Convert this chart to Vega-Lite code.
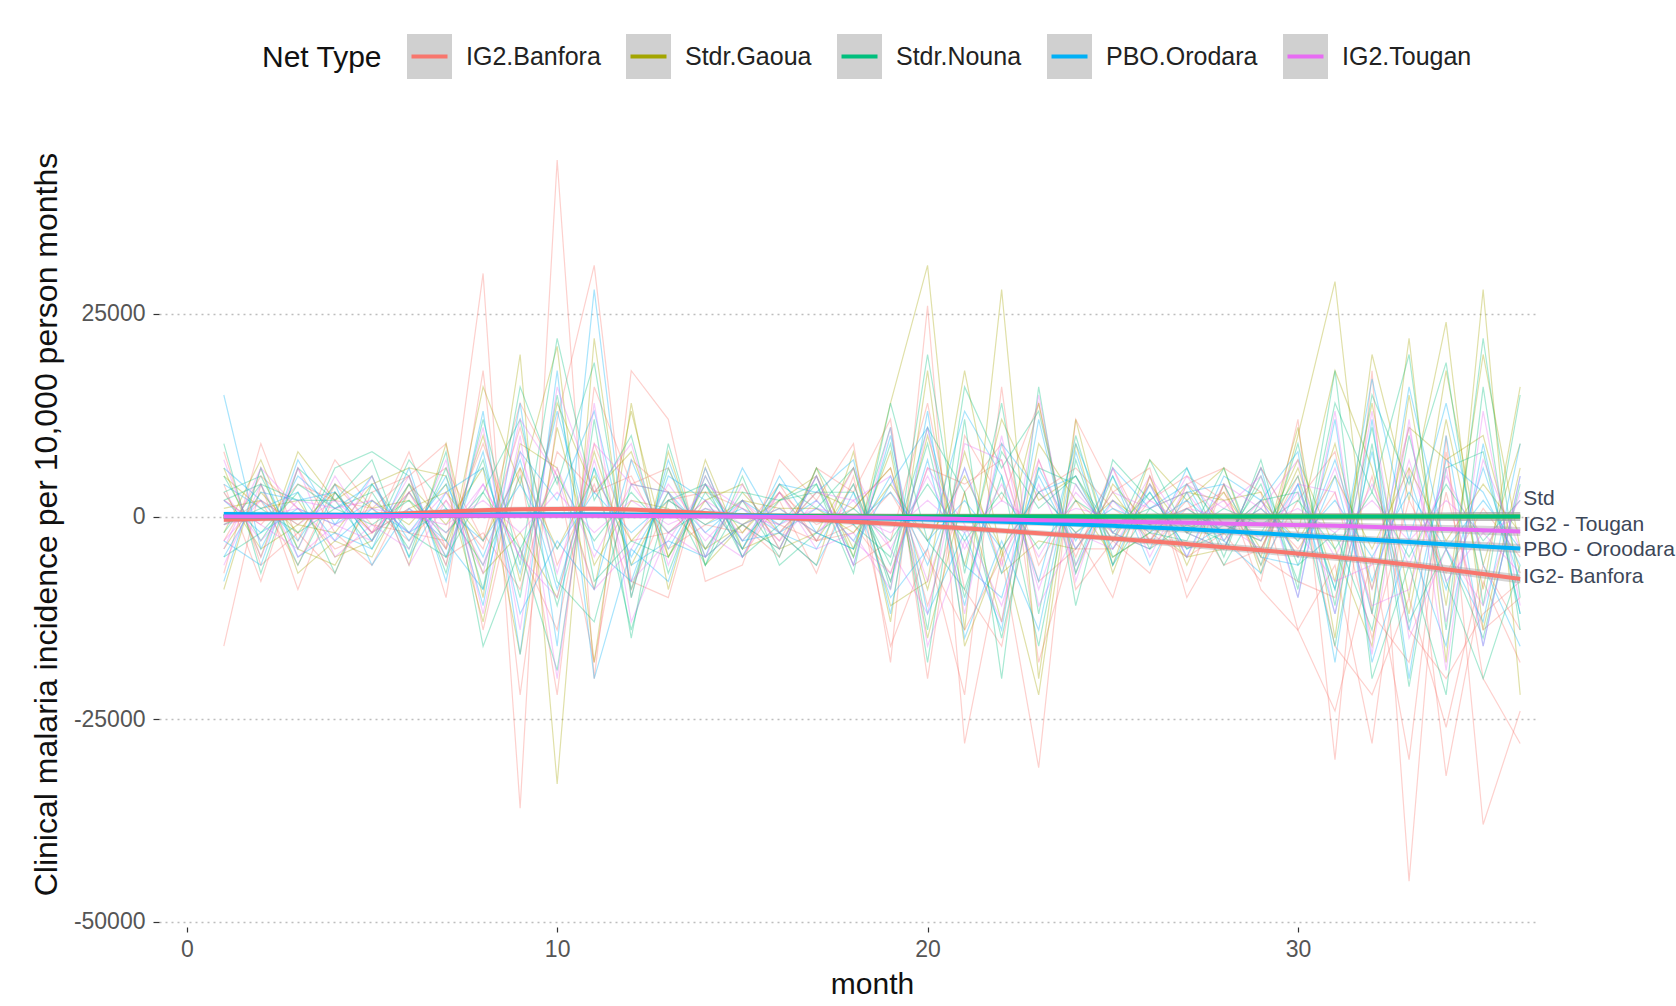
{
"$schema": "https://vega.github.io/schema/vega-lite/v6.json",
"width": 1376,
"height": 829,
"autosize": "none",
"padding": {"left": 159, "top": 98, "right": 141, "bottom": 79},
"background": "white",
"config": {"view": {"stroke": null}, "font": "Liberation Sans"},
"datasets": {
"series": [
{"s":"B1","n":"IG2.Banfora"},{"s":"B2","n":"IG2.Banfora"},{"s":"B3","n":"IG2.Banfora"},{"s":"B4","n":"IG2.Banfora"},{"s":"B5","n":"IG2.Banfora"},{"s":"B6","n":"IG2.Banfora"},{"s":"B7","n":"IG2.Banfora"},
{"s":"G1","n":"Stdr.Gaoua"},{"s":"G2","n":"Stdr.Gaoua"},{"s":"G3","n":"Stdr.Gaoua"},{"s":"G4","n":"Stdr.Gaoua"},{"s":"G5","n":"Stdr.Gaoua"},{"s":"G6","n":"Stdr.Gaoua"},{"s":"G7","n":"Stdr.Gaoua"},
{"s":"N1","n":"Stdr.Nouna"},{"s":"N2","n":"Stdr.Nouna"},{"s":"N3","n":"Stdr.Nouna"},{"s":"N4","n":"Stdr.Nouna"},{"s":"N5","n":"Stdr.Nouna"},{"s":"N6","n":"Stdr.Nouna"},{"s":"N7","n":"Stdr.Nouna"},
{"s":"P1","n":"PBO.Orodara"},{"s":"P2","n":"PBO.Orodara"},{"s":"P3","n":"PBO.Orodara"},{"s":"P4","n":"PBO.Orodara"},{"s":"P5","n":"PBO.Orodara"},{"s":"P6","n":"PBO.Orodara"},{"s":"P7","n":"PBO.Orodara"},
{"s":"T1","n":"IG2.Tougan"},{"s":"T2","n":"IG2.Tougan"},{"s":"T3","n":"IG2.Tougan"},{"s":"T4","n":"IG2.Tougan"},{"s":"T5","n":"IG2.Tougan"},{"s":"T6","n":"IG2.Tougan"},{"s":"T7","n":"IG2.Tougan"}
],
"sims": [
{"s":"B1","m":1,"v":-16000},{"s":"B1","m":2,"v":4000},{"s":"B1","m":3,"v":-9000},{"s":"B1","m":4,"v":3000},{"s":"B1","m":5,"v":-2000},{"s":"B1","m":6,"v":8000},{"s":"B1","m":7,"v":-4000},{"s":"B1","m":8,"v":30000},{"s":"B1","m":9,"v":-36000},{"s":"B1","m":10,"v":44000},{"s":"B1","m":11,"v":-20000},{"s":"B1","m":12,"v":18000},{"s":"B1","m":13,"v":12000},{"s":"B1","m":14,"v":-8000},{"s":"B1","m":15,"v":-6000},{"s":"B1","m":16,"v":7000},{"s":"B1","m":17,"v":2000},{"s":"B1","m":18,"v":9000},{"s":"B1","m":19,"v":-18000},{"s":"B1","m":20,"v":26000},{"s":"B1","m":21,"v":-28000},{"s":"B1","m":22,"v":-5000},{"s":"B1","m":23,"v":-31000},{"s":"B1","m":24,"v":12000},{"s":"B1","m":25,"v":3000},{"s":"B1","m":26,"v":6000},{"s":"B1","m":27,"v":-10000},{"s":"B1","m":28,"v":-2000},{"s":"B1","m":29,"v":-8000},{"s":"B1","m":30,"v":12000},{"s":"B1","m":31,"v":-30000},{"s":"B1","m":32,"v":18000},{"s":"B1","m":33,"v":-45000},{"s":"B1","m":34,"v":10000},{"s":"B1","m":35,"v":-38000},{"s":"B1","m":36,"v":-24000},
{"s":"B2","m":1,"v":8000},{"s":"B2","m":2,"v":-6000},{"s":"B2","m":3,"v":-2000},{"s":"B2","m":4,"v":-7000},{"s":"B2","m":5,"v":3000},{"s":"B2","m":6,"v":5000},{"s":"B2","m":7,"v":9000},{"s":"B2","m":8,"v":-14000},{"s":"B2","m":9,"v":6000},{"s":"B2","m":10,"v":-22000},{"s":"B2","m":11,"v":16000},{"s":"B2","m":12,"v":4000},{"s":"B2","m":13,"v":6000},{"s":"B2","m":14,"v":-5000},{"s":"B2","m":15,"v":-1000},{"s":"B2","m":16,"v":-5000},{"s":"B2","m":17,"v":6000},{"s":"B2","m":18,"v":3000},{"s":"B2","m":19,"v":12000},{"s":"B2","m":20,"v":-20000},{"s":"B2","m":21,"v":10000},{"s":"B2","m":22,"v":2000},{"s":"B2","m":23,"v":14000},{"s":"B2","m":24,"v":-9000},{"s":"B2","m":25,"v":-3000},{"s":"B2","m":26,"v":-7000},{"s":"B2","m":27,"v":4000},{"s":"B2","m":28,"v":6000},{"s":"B2","m":29,"v":3000},{"s":"B2","m":30,"v":-14000},{"s":"B2","m":31,"v":-6000},{"s":"B2","m":32,"v":-28000},{"s":"B2","m":33,"v":6000},{"s":"B2","m":34,"v":-32000},{"s":"B2","m":35,"v":-8000},{"s":"B2","m":36,"v":-18000},
{"s":"B3","m":1,"v":-3000},{"s":"B3","m":2,"v":5000},{"s":"B3","m":3,"v":1000},{"s":"B3","m":4,"v":-4000},{"s":"B3","m":5,"v":-2000},{"s":"B3","m":6,"v":3000},{"s":"B3","m":7,"v":-5000},{"s":"B3","m":8,"v":-2000},{"s":"B3","m":9,"v":-9000},{"s":"B3","m":10,"v":8000},{"s":"B3","m":11,"v":3000},{"s":"B3","m":12,"v":5000},{"s":"B3","m":13,"v":-4000},{"s":"B3","m":14,"v":-1000},{"s":"B3","m":15,"v":-2000},{"s":"B3","m":16,"v":4000},{"s":"B3","m":17,"v":-3000},{"s":"B3","m":18,"v":-1000},{"s":"B3","m":19,"v":-7000},{"s":"B3","m":20,"v":6000},{"s":"B3","m":21,"v":4000},{"s":"B3","m":22,"v":7000},{"s":"B3","m":23,"v":-8000},{"s":"B3","m":24,"v":-4000},{"s":"B3","m":25,"v":-4000},{"s":"B3","m":26,"v":2000},{"s":"B3","m":27,"v":5000},{"s":"B3","m":28,"v":2000},{"s":"B3","m":29,"v":-5000},{"s":"B3","m":30,"v":-8000},{"s":"B3","m":31,"v":-10000},{"s":"B3","m":32,"v":5000},{"s":"B3","m":33,"v":-14000},{"s":"B3","m":34,"v":-20000},{"s":"B3","m":35,"v":-12000},{"s":"B3","m":36,"v":-8000},
{"s":"B4","m":1,"v":2000},{"s":"B4","m":2,"v":-1000},{"s":"B4","m":3,"v":4000},{"s":"B4","m":4,"v":2000},{"s":"B4","m":5,"v":1000},{"s":"B4","m":6,"v":-3000},{"s":"B4","m":7,"v":2000},{"s":"B4","m":8,"v":-4000},{"s":"B4","m":9,"v":11000},{"s":"B4","m":10,"v":-6000},{"s":"B4","m":11,"v":4000},{"s":"B4","m":12,"v":-9000},{"s":"B4","m":13,"v":2000},{"s":"B4","m":14,"v":3000},{"s":"B4","m":15,"v":1000},{"s":"B4","m":16,"v":-1000},{"s":"B4","m":17,"v":-3000},{"s":"B4","m":18,"v":-2000},{"s":"B4","m":19,"v":3000},{"s":"B4","m":20,"v":-5000},{"s":"B4","m":21,"v":-14000},{"s":"B4","m":22,"v":-5000},{"s":"B4","m":23,"v":3000},{"s":"B4","m":24,"v":6000},{"s":"B4","m":25,"v":1000},{"s":"B4","m":26,"v":-2000},{"s":"B4","m":27,"v":-5000},{"s":"B4","m":28,"v":-2000},{"s":"B4","m":29,"v":1000},{"s":"B4","m":30,"v":-4000},{"s":"B4","m":31,"v":3000},{"s":"B4","m":32,"v":-15000},{"s":"B4","m":33,"v":2000},{"s":"B4","m":34,"v":-7000},{"s":"B4","m":35,"v":1000},{"s":"B4","m":36,"v":-5000},
{"s":"B5","m":1,"v":-7000},{"s":"B5","m":2,"v":9000},{"s":"B5","m":3,"v":-3000},{"s":"B5","m":4,"v":7000},{"s":"B5","m":5,"v":1000},{"s":"B5","m":6,"v":5000},{"s":"B5","m":7,"v":-10000},{"s":"B5","m":8,"v":18000},{"s":"B5","m":9,"v":-22000},{"s":"B5","m":10,"v":12000},{"s":"B5","m":11,"v":31000},{"s":"B5","m":12,"v":-8000},{"s":"B5","m":13,"v":-10000},{"s":"B5","m":14,"v":6000},{"s":"B5","m":15,"v":-5000},{"s":"B5","m":16,"v":2000},{"s":"B5","m":17,"v":-7000},{"s":"B5","m":18,"v":5000},{"s":"B5","m":19,"v":-16000},{"s":"B5","m":20,"v":-4000},{"s":"B5","m":21,"v":-22000},{"s":"B5","m":22,"v":16000},{"s":"B5","m":23,"v":-18000},{"s":"B5","m":24,"v":-2000},{"s":"B5","m":25,"v":-10000},{"s":"B5","m":26,"v":5000},{"s":"B5","m":27,"v":-8000},{"s":"B5","m":28,"v":4000},{"s":"B5","m":29,"v":-9000},{"s":"B5","m":30,"v":-14000},{"s":"B5","m":31,"v":-24000},{"s":"B5","m":32,"v":-5000},{"s":"B5","m":33,"v":-30000},{"s":"B5","m":34,"v":8000},{"s":"B5","m":35,"v":-20000},{"s":"B5","m":36,"v":-28000},
{"s":"B6","m":1,"v":4000},{"s":"B6","m":2,"v":-8000},{"s":"B6","m":3,"v":6000},{"s":"B6","m":4,"v":-2000},{"s":"B6","m":5,"v":-6000},{"s":"B6","m":6,"v":3000},{"s":"B6","m":7,"v":6000},{"s":"B6","m":8,"v":-3000},{"s":"B6","m":9,"v":14000},{"s":"B6","m":10,"v":5000},{"s":"B6","m":11,"v":-18000},{"s":"B6","m":12,"v":7000},{"s":"B6","m":13,"v":3000},{"s":"B6","m":14,"v":-4000},{"s":"B6","m":15,"v":2000},{"s":"B6","m":16,"v":-3000},{"s":"B6","m":17,"v":5000},{"s":"B6","m":18,"v":-6000},{"s":"B6","m":19,"v":-3000},{"s":"B6","m":20,"v":14000},{"s":"B6","m":21,"v":-9000},{"s":"B6","m":22,"v":-16000},{"s":"B6","m":23,"v":7000},{"s":"B6","m":24,"v":-5000},{"s":"B6","m":25,"v":6000},{"s":"B6","m":26,"v":-3000},{"s":"B6","m":27,"v":2000},{"s":"B6","m":28,"v":-6000},{"s":"B6","m":29,"v":-4000},{"s":"B6","m":30,"v":5000},{"s":"B6","m":31,"v":-16000},{"s":"B6","m":32,"v":-22000},{"s":"B6","m":33,"v":-10000},{"s":"B6","m":34,"v":-26000},{"s":"B6","m":35,"v":-6000},{"s":"B6","m":36,"v":-14000},
{"s":"B7","m":1,"v":-1000},{"s":"B7","m":2,"v":2000},{"s":"B7","m":3,"v":-6000},{"s":"B7","m":4,"v":4000},{"s":"B7","m":5,"v":-1000},{"s":"B7","m":6,"v":-2000},{"s":"B7","m":7,"v":-3000},{"s":"B7","m":8,"v":9000},{"s":"B7","m":9,"v":-4000},{"s":"B7","m":10,"v":-14000},{"s":"B7","m":11,"v":9000},{"s":"B7","m":12,"v":-3000},{"s":"B7","m":13,"v":-2000},{"s":"B7","m":14,"v":2000},{"s":"B7","m":15,"v":-4000},{"s":"B7","m":16,"v":3000},{"s":"B7","m":17,"v":-1000},{"s":"B7","m":18,"v":1000},{"s":"B7","m":19,"v":6000},{"s":"B7","m":20,"v":-11000},{"s":"B7","m":21,"v":3000},{"s":"B7","m":22,"v":9000},{"s":"B7","m":23,"v":-6000},{"s":"B7","m":24,"v":2000},{"s":"B7","m":25,"v":-2000},{"s":"B7","m":26,"v":-4000},{"s":"B7","m":27,"v":1000},{"s":"B7","m":28,"v":3000},{"s":"B7","m":29,"v":-6000},{"s":"B7","m":30,"v":2000},{"s":"B7","m":31,"v":8000},{"s":"B7","m":32,"v":-12000},{"s":"B7","m":33,"v":-18000},{"s":"B7","m":34,"v":3000},{"s":"B7","m":35,"v":-14000},{"s":"B7","m":36,"v":-10000},
{"s":"G1","m":1,"v":6000},{"s":"G1","m":2,"v":-5000},{"s":"G1","m":3,"v":8000},{"s":"G1","m":4,"v":2000},{"s":"G1","m":5,"v":5000},{"s":"G1","m":6,"v":-6000},{"s":"G1","m":7,"v":9000},{"s":"G1","m":8,"v":-10000},{"s":"G1","m":9,"v":20000},{"s":"G1","m":10,"v":-33000},{"s":"G1","m":11,"v":22000},{"s":"G1","m":12,"v":-10000},{"s":"G1","m":13,"v":8000},{"s":"G1","m":14,"v":-6000},{"s":"G1","m":15,"v":-1000},{"s":"G1","m":16,"v":-4000},{"s":"G1","m":17,"v":6000},{"s":"G1","m":18,"v":-5000},{"s":"G1","m":19,"v":14000},{"s":"G1","m":20,"v":31000},{"s":"G1","m":21,"v":-14000},{"s":"G1","m":22,"v":28000},{"s":"G1","m":23,"v":-20000},{"s":"G1","m":24,"v":12000},{"s":"G1","m":25,"v":-6000},{"s":"G1","m":26,"v":7000},{"s":"G1","m":27,"v":2000},{"s":"G1","m":28,"v":6000},{"s":"G1","m":29,"v":-7000},{"s":"G1","m":30,"v":10000},{"s":"G1","m":31,"v":29000},{"s":"G1","m":32,"v":-12000},{"s":"G1","m":33,"v":22000},{"s":"G1","m":34,"v":-18000},{"s":"G1","m":35,"v":28000},{"s":"G1","m":36,"v":-22000},
{"s":"G2","m":1,"v":-4000},{"s":"G2","m":2,"v":3000},{"s":"G2","m":3,"v":-2000},{"s":"G2","m":4,"v":4000},{"s":"G2","m":5,"v":1000},{"s":"G2","m":6,"v":2000},{"s":"G2","m":7,"v":-4000},{"s":"G2","m":8,"v":10000},{"s":"G2","m":9,"v":-8000},{"s":"G2","m":10,"v":14000},{"s":"G2","m":11,"v":3000},{"s":"G2","m":12,"v":8000},{"s":"G2","m":13,"v":-5000},{"s":"G2","m":14,"v":4000},{"s":"G2","m":15,"v":-2000},{"s":"G2","m":16,"v":3000},{"s":"G2","m":17,"v":-3000},{"s":"G2","m":18,"v":4000},{"s":"G2","m":19,"v":-8000},{"s":"G2","m":20,"v":10000},{"s":"G2","m":21,"v":-6000},{"s":"G2","m":22,"v":12000},{"s":"G2","m":23,"v":2000},{"s":"G2","m":24,"v":5000},{"s":"G2","m":25,"v":-3000},{"s":"G2","m":26,"v":4000},{"s":"G2","m":27,"v":-2000},{"s":"G2","m":28,"v":3000},{"s":"G2","m":29,"v":-4000},{"s":"G2","m":30,"v":6000},{"s":"G2","m":31,"v":-8000},{"s":"G2","m":32,"v":14000},{"s":"G2","m":33,"v":-10000},{"s":"G2","m":34,"v":18000},{"s":"G2","m":35,"v":-6000},{"s":"G2","m":36,"v":9000},
{"s":"G3","m":1,"v":1000},{"s":"G3","m":2,"v":2000},{"s":"G3","m":3,"v":-1000},{"s":"G3","m":4,"v":3000},{"s":"G3","m":5,"v":-2000},{"s":"G3","m":6,"v":1000},{"s":"G3","m":7,"v":3000},{"s":"G3","m":8,"v":-3000},{"s":"G3","m":9,"v":6000},{"s":"G3","m":10,"v":-4000},{"s":"G3","m":11,"v":5000},{"s":"G3","m":12,"v":-3000},{"s":"G3","m":13,"v":2000},{"s":"G3","m":14,"v":-1000},{"s":"G3","m":15,"v":2000},{"s":"G3","m":16,"v":1000},{"s":"G3","m":17,"v":1000},{"s":"G3","m":18,"v":-2000},{"s":"G3","m":19,"v":4000},{"s":"G3","m":20,"v":-3000},{"s":"G3","m":21,"v":5000},{"s":"G3","m":22,"v":-4000},{"s":"G3","m":23,"v":3000},{"s":"G3","m":24,"v":-2000},{"s":"G3","m":25,"v":2000},{"s":"G3","m":26,"v":-1000},{"s":"G3","m":27,"v":1000},{"s":"G3","m":28,"v":-2000},{"s":"G3","m":29,"v":2000},{"s":"G3","m":30,"v":-3000},{"s":"G3","m":31,"v":5000},{"s":"G3","m":32,"v":-4000},{"s":"G3","m":33,"v":6000},{"s":"G3","m":34,"v":-3000},{"s":"G3","m":35,"v":4000},{"s":"G3","m":36,"v":-2000},
{"s":"G4","m":1,"v":-9000},{"s":"G4","m":2,"v":6000},{"s":"G4","m":3,"v":-7000},{"s":"G4","m":4,"v":-3000},{"s":"G4","m":5,"v":-5000},{"s":"G4","m":6,"v":4000},{"s":"G4","m":7,"v":-6000},{"s":"G4","m":8,"v":16000},{"s":"G4","m":9,"v":4000},{"s":"G4","m":10,"v":21000},{"s":"G4","m":11,"v":-18000},{"s":"G4","m":12,"v":14000},{"s":"G4","m":13,"v":-9000},{"s":"G4","m":14,"v":7000},{"s":"G4","m":15,"v":-4000},{"s":"G4","m":16,"v":-2000},{"s":"G4","m":17,"v":-6000},{"s":"G4","m":18,"v":8000},{"s":"G4","m":19,"v":-13000},{"s":"G4","m":20,"v":18000},{"s":"G4","m":21,"v":-16000},{"s":"G4","m":22,"v":-4000},{"s":"G4","m":23,"v":-22000},{"s":"G4","m":24,"v":9000},{"s":"G4","m":25,"v":-7000},{"s":"G4","m":26,"v":5000},{"s":"G4","m":27,"v":-6000},{"s":"G4","m":28,"v":4000},{"s":"G4","m":29,"v":-5000},{"s":"G4","m":30,"v":11000},{"s":"G4","m":31,"v":-15000},{"s":"G4","m":32,"v":20000},{"s":"G4","m":33,"v":2000},{"s":"G4","m":34,"v":24000},{"s":"G4","m":35,"v":-14000},{"s":"G4","m":36,"v":6000},
{"s":"G5","m":1,"v":3000},{"s":"G5","m":2,"v":-4000},{"s":"G5","m":3,"v":-1000},{"s":"G5","m":4,"v":-2000},{"s":"G5","m":5,"v":4000},{"s":"G5","m":6,"v":6000},{"s":"G5","m":7,"v":5000},{"s":"G5","m":8,"v":-7000},{"s":"G5","m":9,"v":-2000},{"s":"G5","m":10,"v":-10000},{"s":"G5","m":11,"v":8000},{"s":"G5","m":12,"v":-6000},{"s":"G5","m":13,"v":3000},{"s":"G5","m":14,"v":3000},{"s":"G5","m":15,"v":3000},{"s":"G5","m":16,"v":-2000},{"s":"G5","m":17,"v":3000},{"s":"G5","m":18,"v":1000},{"s":"G5","m":19,"v":6000},{"s":"G5","m":20,"v":-9000},{"s":"G5","m":21,"v":8000},{"s":"G5","m":22,"v":-7000},{"s":"G5","m":23,"v":-3000},{"s":"G5","m":24,"v":-4000},{"s":"G5","m":25,"v":3000},{"s":"G5","m":26,"v":-3000},{"s":"G5","m":27,"v":3000},{"s":"G5","m":28,"v":2000},{"s":"G5","m":29,"v":3000},{"s":"G5","m":30,"v":-5000},{"s":"G5","m":31,"v":9000},{"s":"G5","m":32,"v":-9000},{"s":"G5","m":33,"v":11000},{"s":"G5","m":34,"v":7000},{"s":"G5","m":35,"v":10000},{"s":"G5","m":36,"v":-7000},
{"s":"G6","m":1,"v":-2000},{"s":"G6","m":2,"v":7000},{"s":"G6","m":3,"v":-4000},{"s":"G6","m":4,"v":-6000},{"s":"G6","m":5,"v":2000},{"s":"G6","m":6,"v":-1000},{"s":"G6","m":7,"v":4000},{"s":"G6","m":8,"v":-13000},{"s":"G6","m":9,"v":9000},{"s":"G6","m":10,"v":6000},{"s":"G6","m":11,"v":-9000},{"s":"G6","m":12,"v":13000},{"s":"G6","m":13,"v":-5000},{"s":"G6","m":14,"v":2000},{"s":"G6","m":15,"v":4000},{"s":"G6","m":16,"v":-4000},{"s":"G6","m":17,"v":-2000},{"s":"G6","m":18,"v":6000},{"s":"G6","m":19,"v":-11000},{"s":"G6","m":20,"v":-8000},{"s":"G6","m":21,"v":18000},{"s":"G6","m":22,"v":-5000},{"s":"G6","m":23,"v":14000},{"s":"G6","m":24,"v":-7000},{"s":"G6","m":25,"v":4000},{"s":"G6","m":26,"v":-1000},{"s":"G6","m":27,"v":-5000},{"s":"G6","m":28,"v":-4000},{"s":"G6","m":29,"v":6000},{"s":"G6","m":30,"v":-2000},{"s":"G6","m":31,"v":18000},{"s":"G6","m":32,"v":6000},{"s":"G6","m":33,"v":-12000},{"s":"G6","m":34,"v":12000},{"s":"G6","m":35,"v":-9000},{"s":"G6","m":36,"v":16000},
{"s":"G7","m":1,"v":5000},{"s":"G7","m":2,"v":1000},{"s":"G7","m":3,"v":2000},{"s":"G7","m":4,"v":-5000},{"s":"G7","m":5,"v":-3000},{"s":"G7","m":6,"v":4000},{"s":"G7","m":7,"v":-1000},{"s":"G7","m":8,"v":6000},{"s":"G7","m":9,"v":-17000},{"s":"G7","m":10,"v":11000},{"s":"G7","m":11,"v":-6000},{"s":"G7","m":12,"v":2000},{"s":"G7","m":13,"v":1000},{"s":"G7","m":14,"v":-4000},{"s":"G7","m":15,"v":-1000},{"s":"G7","m":16,"v":2000},{"s":"G7","m":17,"v":5000},{"s":"G7","m":18,"v":-4000},{"s":"G7","m":19,"v":8000},{"s":"G7","m":20,"v":-15000},{"s":"G7","m":21,"v":3000},{"s":"G7","m":22,"v":-13000},{"s":"G7","m":23,"v":9000},{"s":"G7","m":24,"v":2000},{"s":"G7","m":25,"v":-5000},{"s":"G7","m":26,"v":-2000},{"s":"G7","m":27,"v":4000},{"s":"G7","m":28,"v":-1000},{"s":"G7","m":29,"v":-3000},{"s":"G7","m":30,"v":7000},{"s":"G7","m":31,"v":-4000},{"s":"G7","m":32,"v":-16000},{"s":"G7","m":33,"v":15000},{"s":"G7","m":34,"v":-11000},{"s":"G7","m":35,"v":20000},{"s":"G7","m":36,"v":-4000},
{"s":"N1","m":1,"v":5000},{"s":"N1","m":2,"v":-3000},{"s":"N1","m":3,"v":4000},{"s":"N1","m":4,"v":1000},{"s":"N1","m":5,"v":3000},{"s":"N1","m":6,"v":-4000},{"s":"N1","m":7,"v":6000},{"s":"N1","m":8,"v":-9000},{"s":"N1","m":9,"v":16000},{"s":"N1","m":10,"v":4000},{"s":"N1","m":11,"v":19000},{"s":"N1","m":12,"v":-9000},{"s":"N1","m":13,"v":6000},{"s":"N1","m":14,"v":-4000},{"s":"N1","m":15,"v":3000},{"s":"N1","m":16,"v":2000},{"s":"N1","m":17,"v":4000},{"s":"N1","m":18,"v":-5000},{"s":"N1","m":19,"v":9000},{"s":"N1","m":20,"v":-14000},{"s":"N1","m":21,"v":16000},{"s":"N1","m":22,"v":6000},{"s":"N1","m":23,"v":13000},{"s":"N1","m":24,"v":-6000},{"s":"N1","m":25,"v":5000},{"s":"N1","m":26,"v":-4000},{"s":"N1","m":27,"v":-1000},{"s":"N1","m":28,"v":-3000},{"s":"N1","m":29,"v":4000},{"s":"N1","m":30,"v":-8000},{"s":"N1","m":31,"v":14000},{"s":"N1","m":32,"v":3000},{"s":"N1","m":33,"v":20000},{"s":"N1","m":34,"v":-14000},{"s":"N1","m":35,"v":22000},{"s":"N1","m":36,"v":-10000},
{"s":"N2","m":1,"v":-2000},{"s":"N2","m":2,"v":4000},{"s":"N2","m":3,"v":2000},{"s":"N2","m":4,"v":2000},{"s":"N2","m":5,"v":-4000},{"s":"N2","m":6,"v":3000},{"s":"N2","m":7,"v":-3000},{"s":"N2","m":8,"v":7000},{"s":"N2","m":9,"v":-10000},{"s":"N2","m":10,"v":15000},{"s":"N2","m":11,"v":-8000},{"s":"N2","m":12,"v":-3000},{"s":"N2","m":13,"v":-5000},{"s":"N2","m":14,"v":3000},{"s":"N2","m":15,"v":-3000},{"s":"N2","m":16,"v":2000},{"s":"N2","m":17,"v":3000},{"s":"N2","m":18,"v":3000},{"s":"N2","m":19,"v":-6000},{"s":"N2","m":20,"v":9000},{"s":"N2","m":21,"v":-10000},{"s":"N2","m":22,"v":8000},{"s":"N2","m":23,"v":1000},{"s":"N2","m":24,"v":5000},{"s":"N2","m":25,"v":-2000},{"s":"N2","m":26,"v":3000},{"s":"N2","m":27,"v":-4000},{"s":"N2","m":28,"v":-2000},{"s":"N2","m":29,"v":-2000},{"s":"N2","m":30,"v":5000},{"s":"N2","m":31,"v":-9000},{"s":"N2","m":32,"v":11000},{"s":"N2","m":33,"v":-13000},{"s":"N2","m":34,"v":-4000},{"s":"N2","m":35,"v":-15000},{"s":"N2","m":36,"v":4000},
{"s":"N3","m":1,"v":9000},{"s":"N3","m":2,"v":-7000},{"s":"N3","m":3,"v":6000},{"s":"N3","m":4,"v":2000},{"s":"N3","m":5,"v":7000},{"s":"N3","m":6,"v":-5000},{"s":"N3","m":7,"v":8000},{"s":"N3","m":8,"v":-16000},{"s":"N3","m":9,"v":-4000},{"s":"N3","m":10,"v":-19000},{"s":"N3","m":11,"v":12000},{"s":"N3","m":12,"v":-15000},{"s":"N3","m":13,"v":9000},{"s":"N3","m":14,"v":-6000},{"s":"N3","m":15,"v":5000},{"s":"N3","m":16,"v":-6000},{"s":"N3","m":17,"v":-2000},{"s":"N3","m":18,"v":-4000},{"s":"N3","m":19,"v":11000},{"s":"N3","m":20,"v":-18000},{"s":"N3","m":21,"v":12000},{"s":"N3","m":22,"v":-20000},{"s":"N3","m":23,"v":16000},{"s":"N3","m":24,"v":-11000},{"s":"N3","m":25,"v":7000},{"s":"N3","m":26,"v":2000},{"s":"N3","m":27,"v":6000},{"s":"N3","m":28,"v":-5000},{"s":"N3","m":29,"v":7000},{"s":"N3","m":30,"v":-9000},{"s":"N3","m":31,"v":18000},{"s":"N3","m":32,"v":-20000},{"s":"N3","m":33,"v":-6000},{"s":"N3","m":34,"v":-22000},{"s":"N3","m":35,"v":16000},{"s":"N3","m":36,"v":-14000},
{"s":"N4","m":1,"v":-1000},{"s":"N4","m":2,"v":1000},{"s":"N4","m":3,"v":-2000},{"s":"N4","m":4,"v":1000},{"s":"N4","m":5,"v":-1000},{"s":"N4","m":6,"v":2000},{"s":"N4","m":7,"v":-2000},{"s":"N4","m":8,"v":3000},{"s":"N4","m":9,"v":-4000},{"s":"N4","m":10,"v":5000},{"s":"N4","m":11,"v":-3000},{"s":"N4","m":12,"v":3000},{"s":"N4","m":13,"v":-2000},{"s":"N4","m":14,"v":1000},{"s":"N4","m":15,"v":-1000},{"s":"N4","m":16,"v":1000},{"s":"N4","m":17,"v":-2000},{"s":"N4","m":18,"v":1000},{"s":"N4","m":19,"v":-3000},{"s":"N4","m":20,"v":4000},{"s":"N4","m":21,"v":-3000},{"s":"N4","m":22,"v":3000},{"s":"N4","m":23,"v":-4000},{"s":"N4","m":24,"v":2000},{"s":"N4","m":25,"v":-1000},{"s":"N4","m":26,"v":1000},{"s":"N4","m":27,"v":-2000},{"s":"N4","m":28,"v":1000},{"s":"N4","m":29,"v":-1000},{"s":"N4","m":30,"v":2000},{"s":"N4","m":31,"v":-4000},{"s":"N4","m":32,"v":3000},{"s":"N4","m":33,"v":-5000},{"s":"N4","m":34,"v":4000},{"s":"N4","m":35,"v":-3000},{"s":"N4","m":36,"v":2000},
{"s":"N5","m":1,"v":3000},{"s":"N5","m":2,"v":5000},{"s":"N5","m":3,"v":-4000},{"s":"N5","m":4,"v":6000},{"s":"N5","m":5,"v":8000},{"s":"N5","m":6,"v":5000},{"s":"N5","m":7,"v":-7000},{"s":"N5","m":8,"v":12000},{"s":"N5","m":9,"v":-6000},{"s":"N5","m":10,"v":22000},{"s":"N5","m":11,"v":2000},{"s":"N5","m":12,"v":10000},{"s":"N5","m":13,"v":-7000},{"s":"N5","m":14,"v":5000},{"s":"N5","m":15,"v":-4000},{"s":"N5","m":16,"v":4000},{"s":"N5","m":17,"v":1000},{"s":"N5","m":18,"v":6000},{"s":"N5","m":19,"v":-9000},{"s":"N5","m":20,"v":20000},{"s":"N5","m":21,"v":-7000},{"s":"N5","m":22,"v":14000},{"s":"N5","m":23,"v":-12000},{"s":"N5","m":24,"v":10000},{"s":"N5","m":25,"v":-5000},{"s":"N5","m":26,"v":-2000},{"s":"N5","m":27,"v":-3000},{"s":"N5","m":28,"v":6000},{"s":"N5","m":29,"v":-6000},{"s":"N5","m":30,"v":9000},{"s":"N5","m":31,"v":-11000},{"s":"N5","m":32,"v":15000},{"s":"N5","m":33,"v":4000},{"s":"N5","m":34,"v":19000},{"s":"N5","m":35,"v":-11000},{"s":"N5","m":36,"v":15000},
{"s":"N6","m":1,"v":-5000},{"s":"N6","m":2,"v":-2000},{"s":"N6","m":3,"v":3000},{"s":"N6","m":4,"v":-7000},{"s":"N6","m":5,"v":4000},{"s":"N6","m":6,"v":-2000},{"s":"N6","m":7,"v":-5000},{"s":"N6","m":8,"v":3000},{"s":"N6","m":9,"v":12000},{"s":"N6","m":10,"v":-8000},{"s":"N6","m":11,"v":-13000},{"s":"N6","m":12,"v":4000},{"s":"N6","m":13,"v":3000},{"s":"N6","m":14,"v":-6000},{"s":"N6","m":15,"v":2000},{"s":"N6","m":16,"v":-5000},{"s":"N6","m":17,"v":6000},{"s":"N6","m":18,"v":-1000},{"s":"N6","m":19,"v":-5000},{"s":"N6","m":20,"v":11000},{"s":"N6","m":21,"v":3000},{"s":"N6","m":22,"v":-15000},{"s":"N6","m":23,"v":6000},{"s":"N6","m":24,"v":4000},{"s":"N6","m":25,"v":-3000},{"s":"N6","m":26,"v":7000},{"s":"N6","m":27,"v":-2000},{"s":"N6","m":28,"v":-4000},{"s":"N6","m":29,"v":5000},{"s":"N6","m":30,"v":-6000},{"s":"N6","m":31,"v":-2000},{"s":"N6","m":32,"v":-14000},{"s":"N6","m":33,"v":10000},{"s":"N6","m":34,"v":-8000},{"s":"N6","m":35,"v":-20000},{"s":"N6","m":36,"v":-6000},
{"s":"N7","m":1,"v":2000},{"s":"N7","m":2,"v":4000},{"s":"N7","m":3,"v":-6000},{"s":"N7","m":4,"v":3000},{"s":"N7","m":5,"v":-3000},{"s":"N7","m":6,"v":7000},{"s":"N7","m":7,"v":1000},{"s":"N7","m":8,"v":-6000},{"s":"N7","m":9,"v":5000},{"s":"N7","m":10,"v":-11000},{"s":"N7","m":11,"v":6000},{"s":"N7","m":12,"v":-14000},{"s":"N7","m":13,"v":2000},{"s":"N7","m":14,"v":4000},{"s":"N7","m":15,"v":-5000},{"s":"N7","m":16,"v":-1000},{"s":"N7","m":17,"v":4000},{"s":"N7","m":18,"v":-7000},{"s":"N7","m":19,"v":14000},{"s":"N7","m":20,"v":-3000},{"s":"N7","m":21,"v":-9000},{"s":"N7","m":22,"v":5000},{"s":"N7","m":23,"v":-16000},{"s":"N7","m":24,"v":7000},{"s":"N7","m":25,"v":-6000},{"s":"N7","m":26,"v":1000},{"s":"N7","m":27,"v":3000},{"s":"N7","m":28,"v":-6000},{"s":"N7","m":29,"v":2000},{"s":"N7","m":30,"v":3000},{"s":"N7","m":31,"v":-16000},{"s":"N7","m":32,"v":9000},{"s":"N7","m":33,"v":-21000},{"s":"N7","m":34,"v":6000},{"s":"N7","m":35,"v":8000},{"s":"N7","m":36,"v":-12000},
{"s":"P1","m":1,"v":15000},{"s":"P1","m":2,"v":-4000},{"s":"P1","m":3,"v":5000},{"s":"P1","m":4,"v":1000},{"s":"P1","m":5,"v":4000},{"s":"P1","m":6,"v":-3000},{"s":"P1","m":7,"v":5000},{"s":"P1","m":8,"v":-11000},{"s":"P1","m":9,"v":14000},{"s":"P1","m":10,"v":-16000},{"s":"P1","m":11,"v":28000},{"s":"P1","m":12,"v":-10000},{"s":"P1","m":13,"v":7000},{"s":"P1","m":14,"v":-5000},{"s":"P1","m":15,"v":-1000},{"s":"P1","m":16,"v":-4000},{"s":"P1","m":17,"v":5000},{"s":"P1","m":18,"v":-6000},{"s":"P1","m":19,"v":10000},{"s":"P1","m":20,"v":-12000},{"s":"P1","m":21,"v":-2000},{"s":"P1","m":22,"v":-14000},{"s":"P1","m":23,"v":12000},{"s":"P1","m":24,"v":-7000},{"s":"P1","m":25,"v":6000},{"s":"P1","m":26,"v":1000},{"s":"P1","m":27,"v":4000},{"s":"P1","m":28,"v":-4000},{"s":"P1","m":29,"v":6000},{"s":"P1","m":30,"v":-10000},{"s":"P1","m":31,"v":12000},{"s":"P1","m":32,"v":-18000},{"s":"P1","m":33,"v":-3000},{"s":"P1","m":34,"v":-16000},{"s":"P1","m":35,"v":9000},{"s":"P1","m":36,"v":-12000},
{"s":"P2","m":1,"v":-5000},{"s":"P2","m":2,"v":3000},{"s":"P2","m":3,"v":2000},{"s":"P2","m":4,"v":3000},{"s":"P2","m":5,"v":-3000},{"s":"P2","m":6,"v":4000},{"s":"P2","m":7,"v":-5000},{"s":"P2","m":8,"v":8000},{"s":"P2","m":9,"v":-12000},{"s":"P2","m":10,"v":-3000},{"s":"P2","m":11,"v":-9000},{"s":"P2","m":12,"v":7000},{"s":"P2","m":13,"v":-4000},{"s":"P2","m":14,"v":4000},{"s":"P2","m":15,"v":-3000},{"s":"P2","m":16,"v":-2000},{"s":"P2","m":17,"v":-4000},{"s":"P2","m":18,"v":4000},{"s":"P2","m":19,"v":-8000},{"s":"P2","m":20,"v":7000},{"s":"P2","m":21,"v":-11000},{"s":"P2","m":22,"v":9000},{"s":"P2","m":23,"v":3000},{"s":"P2","m":24,"v":5000},{"s":"P2","m":25,"v":-4000},{"s":"P2","m":26,"v":3000},{"s":"P2","m":27,"v":-4000},{"s":"P2","m":28,"v":-1000},{"s":"P2","m":29,"v":-3000},{"s":"P2","m":30,"v":4000},{"s":"P2","m":31,"v":-12000},{"s":"P2","m":32,"v":8000},{"s":"P2","m":33,"v":-14000},{"s":"P2","m":34,"v":7000},{"s":"P2","m":35,"v":3000},{"s":"P2","m":36,"v":-6000},
{"s":"P3","m":1,"v":2000},{"s":"P3","m":2,"v":-2000},{"s":"P3","m":3,"v":1000},{"s":"P3","m":4,"v":-1000},{"s":"P3","m":5,"v":2000},{"s":"P3","m":6,"v":-2000},{"s":"P3","m":7,"v":1000},{"s":"P3","m":8,"v":-3000},{"s":"P3","m":9,"v":4000},{"s":"P3","m":10,"v":-4000},{"s":"P3","m":11,"v":3000},{"s":"P3","m":12,"v":-2000},{"s":"P3","m":13,"v":2000},{"s":"P3","m":14,"v":-1000},{"s":"P3","m":15,"v":1000},{"s":"P3","m":16,"v":-2000},{"s":"P3","m":17,"v":1000},{"s":"P3","m":18,"v":-1000},{"s":"P3","m":19,"v":3000},{"s":"P3","m":20,"v":-3000},{"s":"P3","m":21,"v":2000},{"s":"P3","m":22,"v":-4000},{"s":"P3","m":23,"v":3000},{"s":"P3","m":24,"v":-2000},{"s":"P3","m":25,"v":1000},{"s":"P3","m":26,"v":-1000},{"s":"P3","m":27,"v":2000},{"s":"P3","m":28,"v":-2000},{"s":"P3","m":29,"v":1000},{"s":"P3","m":30,"v":-3000},{"s":"P3","m":31,"v":2000},{"s":"P3","m":32,"v":-5000},{"s":"P3","m":33,"v":3000},{"s":"P3","m":34,"v":-4000},{"s":"P3","m":35,"v":2000},{"s":"P3","m":36,"v":-4000},
{"s":"P4","m":1,"v":-8000},{"s":"P4","m":2,"v":6000},{"s":"P4","m":3,"v":-5000},{"s":"P4","m":4,"v":-2000},{"s":"P4","m":5,"v":-4000},{"s":"P4","m":6,"v":6000},{"s":"P4","m":7,"v":-8000},{"s":"P4","m":8,"v":13000},{"s":"P4","m":9,"v":-17000},{"s":"P4","m":10,"v":18000},{"s":"P4","m":11,"v":-20000},{"s":"P4","m":12,"v":-4000},{"s":"P4","m":13,"v":-8000},{"s":"P4","m":14,"v":6000},{"s":"P4","m":15,"v":-5000},{"s":"P4","m":16,"v":4000},{"s":"P4","m":17,"v":3000},{"s":"P4","m":18,"v":7000},{"s":"P4","m":19,"v":-12000},{"s":"P4","m":20,"v":13000},{"s":"P4","m":21,"v":-15000},{"s":"P4","m":22,"v":-3000},{"s":"P4","m":23,"v":-14000},{"s":"P4","m":24,"v":8000},{"s":"P4","m":25,"v":-6000},{"s":"P4","m":26,"v":4000},{"s":"P4","m":27,"v":-5000},{"s":"P4","m":28,"v":5000},{"s":"P4","m":29,"v":2000},{"s":"P4","m":30,"v":8000},{"s":"P4","m":31,"v":-18000},{"s":"P4","m":32,"v":12000},{"s":"P4","m":33,"v":-20000},{"s":"P4","m":34,"v":10000},{"s":"P4","m":35,"v":-16000},{"s":"P4","m":36,"v":5000},
{"s":"P5","m":1,"v":4000},{"s":"P5","m":2,"v":1000},{"s":"P5","m":3,"v":3000},{"s":"P5","m":4,"v":-3000},{"s":"P5","m":5,"v":1000},{"s":"P5","m":6,"v":-2000},{"s":"P5","m":7,"v":4000},{"s":"P5","m":8,"v":-5000},{"s":"P5","m":9,"v":7000},{"s":"P5","m":10,"v":-9000},{"s":"P5","m":11,"v":6000},{"s":"P5","m":12,"v":-5000},{"s":"P5","m":13,"v":3000},{"s":"P5","m":14,"v":-2000},{"s":"P5","m":15,"v":2000},{"s":"P5","m":16,"v":-1000},{"s":"P5","m":17,"v":2000},{"s":"P5","m":18,"v":-3000},{"s":"P5","m":19,"v":5000},{"s":"P5","m":20,"v":-6000},{"s":"P5","m":21,"v":6000},{"s":"P5","m":22,"v":-7000},{"s":"P5","m":23,"v":5000},{"s":"P5","m":24,"v":-4000},{"s":"P5","m":25,"v":2000},{"s":"P5","m":26,"v":-2000},{"s":"P5","m":27,"v":1000},{"s":"P5","m":28,"v":-2000},{"s":"P5","m":29,"v":2000},{"s":"P5","m":30,"v":-5000},{"s":"P5","m":31,"v":7000},{"s":"P5","m":32,"v":-8000},{"s":"P5","m":33,"v":5000},{"s":"P5","m":34,"v":-9000},{"s":"P5","m":35,"v":6000},{"s":"P5","m":36,"v":-8000},
{"s":"P6","m":1,"v":-3000},{"s":"P6","m":2,"v":-6000},{"s":"P6","m":3,"v":7000},{"s":"P6","m":4,"v":-1000},{"s":"P6","m":5,"v":5000},{"s":"P6","m":6,"v":-5000},{"s":"P6","m":7,"v":3000},{"s":"P6","m":8,"v":6000},{"s":"P6","m":9,"v":-7000},{"s":"P6","m":10,"v":13000},{"s":"P6","m":11,"v":-4000},{"s":"P6","m":12,"v":-8000},{"s":"P6","m":13,"v":5000},{"s":"P6","m":14,"v":2000},{"s":"P6","m":15,"v":-4000},{"s":"P6","m":16,"v":5000},{"s":"P6","m":17,"v":-2000},{"s":"P6","m":18,"v":-4000},{"s":"P6","m":19,"v":4000},{"s":"P6","m":20,"v":11000},{"s":"P6","m":21,"v":-6000},{"s":"P6","m":22,"v":-10000},{"s":"P6","m":23,"v":6000},{"s":"P6","m":24,"v":-3000},{"s":"P6","m":25,"v":5000},{"s":"P6","m":26,"v":-6000},{"s":"P6","m":27,"v":3000},{"s":"P6","m":28,"v":4000},{"s":"P6","m":29,"v":-5000},{"s":"P6","m":30,"v":-6000},{"s":"P6","m":31,"v":5000},{"s":"P6","m":32,"v":-12000},{"s":"P6","m":33,"v":16000},{"s":"P6","m":34,"v":-4000},{"s":"P6","m":35,"v":-13000},{"s":"P6","m":36,"v":9000},
{"s":"P7","m":1,"v":6000},{"s":"P7","m":2,"v":2000},{"s":"P7","m":3,"v":-3000},{"s":"P7","m":4,"v":4000},{"s":"P7","m":5,"v":-6000},{"s":"P7","m":6,"v":1000},{"s":"P7","m":7,"v":-3000},{"s":"P7","m":8,"v":-9000},{"s":"P7","m":9,"v":8000},{"s":"P7","m":10,"v":2000},{"s":"P7","m":11,"v":13000},{"s":"P7","m":12,"v":-6000},{"s":"P7","m":13,"v":-3000},{"s":"P7","m":14,"v":-5000},{"s":"P7","m":15,"v":6000},{"s":"P7","m":16,"v":-2000},{"s":"P7","m":17,"v":-6000},{"s":"P7","m":18,"v":3000},{"s":"P7","m":19,"v":-10000},{"s":"P7","m":20,"v":-4000},{"s":"P7","m":21,"v":13000},{"s":"P7","m":22,"v":5000},{"s":"P7","m":23,"v":-8000},{"s":"P7","m":24,"v":9000},{"s":"P7","m":25,"v":-2000},{"s":"P7","m":26,"v":-4000},{"s":"P7","m":27,"v":6000},{"s":"P7","m":28,"v":-3000},{"s":"P7","m":29,"v":-7000},{"s":"P7","m":30,"v":4000},{"s":"P7","m":31,"v":-9000},{"s":"P7","m":32,"v":17000},{"s":"P7","m":33,"v":-3000},{"s":"P7","m":34,"v":14000},{"s":"P7","m":35,"v":-6000},{"s":"P7","m":36,"v":-16000},
{"s":"T1","m":1,"v":-6000},{"s":"T1","m":2,"v":4000},{"s":"T1","m":3,"v":-5000},{"s":"T1","m":4,"v":-1000},{"s":"T1","m":5,"v":-3000},{"s":"T1","m":6,"v":5000},{"s":"T1","m":7,"v":-6000},{"s":"T1","m":8,"v":11000},{"s":"T1","m":9,"v":-14000},{"s":"T1","m":10,"v":16000},{"s":"T1","m":11,"v":3000},{"s":"T1","m":12,"v":9000},{"s":"T1","m":13,"v":-6000},{"s":"T1","m":14,"v":5000},{"s":"T1","m":15,"v":-3000},{"s":"T1","m":16,"v":3000},{"s":"T1","m":17,"v":-4000},{"s":"T1","m":18,"v":-2000},{"s":"T1","m":19,"v":-9000},{"s":"T1","m":20,"v":11000},{"s":"T1","m":21,"v":-12000},{"s":"T1","m":22,"v":10000},{"s":"T1","m":23,"v":-11000},{"s":"T1","m":24,"v":-2000},{"s":"T1","m":25,"v":-4000},{"s":"T1","m":26,"v":4000},{"s":"T1","m":27,"v":-5000},{"s":"T1","m":28,"v":4000},{"s":"T1","m":29,"v":1000},{"s":"T1","m":30,"v":7000},{"s":"T1","m":31,"v":-12000},{"s":"T1","m":32,"v":13000},{"s":"T1","m":33,"v":-15000},{"s":"T1","m":34,"v":-4000},{"s":"T1","m":35,"v":-11000},{"s":"T1","m":36,"v":3000},
{"s":"T2","m":1,"v":3000},{"s":"T2","m":2,"v":-3000},{"s":"T2","m":3,"v":2000},{"s":"T2","m":4,"v":1000},{"s":"T2","m":5,"v":2000},{"s":"T2","m":6,"v":-2000},{"s":"T2","m":7,"v":3000},{"s":"T2","m":8,"v":-6000},{"s":"T2","m":9,"v":8000},{"s":"T2","m":10,"v":-7000},{"s":"T2","m":11,"v":9000},{"s":"T2","m":12,"v":4000},{"s":"T2","m":13,"v":3000},{"s":"T2","m":14,"v":-3000},{"s":"T2","m":15,"v":2000},{"s":"T2","m":16,"v":-2000},{"s":"T2","m":17,"v":3000},{"s":"T2","m":18,"v":2000},{"s":"T2","m":19,"v":5000},{"s":"T2","m":20,"v":-8000},{"s":"T2","m":21,"v":6000},{"s":"T2","m":22,"v":-6000},{"s":"T2","m":23,"v":7000},{"s":"T2","m":24,"v":-4000},{"s":"T2","m":25,"v":3000},{"s":"T2","m":26,"v":1000},{"s":"T2","m":27,"v":3000},{"s":"T2","m":28,"v":-3000},{"s":"T2","m":29,"v":2000},{"s":"T2","m":30,"v":-5000},{"s":"T2","m":31,"v":6000},{"s":"T2","m":32,"v":-9000},{"s":"T2","m":33,"v":7000},{"s":"T2","m":34,"v":-8000},{"s":"T2","m":35,"v":-2000},{"s":"T2","m":36,"v":-7000},
{"s":"T3","m":1,"v":-1000},{"s":"T3","m":2,"v":0},{"s":"T3","m":3,"v":1000},{"s":"T3","m":4,"v":-1000},{"s":"T3","m":5,"v":1000},{"s":"T3","m":6,"v":0},{"s":"T3","m":7,"v":-1000},{"s":"T3","m":8,"v":2000},{"s":"T3","m":9,"v":-2000},{"s":"T3","m":10,"v":3000},{"s":"T3","m":11,"v":-2000},{"s":"T3","m":12,"v":2000},{"s":"T3","m":13,"v":-1000},{"s":"T3","m":14,"v":1000},{"s":"T3","m":15,"v":0},{"s":"T3","m":16,"v":-1000},{"s":"T3","m":17,"v":1000},{"s":"T3","m":18,"v":0},{"s":"T3","m":19,"v":-2000},{"s":"T3","m":20,"v":2000},{"s":"T3","m":21,"v":-2000},{"s":"T3","m":22,"v":2000},{"s":"T3","m":23,"v":-1000},{"s":"T3","m":24,"v":1000},{"s":"T3","m":25,"v":0},{"s":"T3","m":26,"v":-1000},{"s":"T3","m":27,"v":1000},{"s":"T3","m":28,"v":0},{"s":"T3","m":29,"v":-1000},{"s":"T3","m":30,"v":1000},{"s":"T3","m":31,"v":-2000},{"s":"T3","m":32,"v":2000},{"s":"T3","m":33,"v":-3000},{"s":"T3","m":34,"v":2000},{"s":"T3","m":35,"v":-2000},{"s":"T3","m":36,"v":0},
{"s":"T4","m":1,"v":7000},{"s":"T4","m":2,"v":-5000},{"s":"T4","m":3,"v":6000},{"s":"T4","m":4,"v":-5000},{"s":"T4","m":5,"v":-1000},{"s":"T4","m":6,"v":-4000},{"s":"T4","m":7,"v":7000},{"s":"T4","m":8,"v":-12000},{"s":"T4","m":9,"v":10000},{"s":"T4","m":10,"v":-20000},{"s":"T4","m":11,"v":14000},{"s":"T4","m":12,"v":-13000},{"s":"T4","m":13,"v":-2000},{"s":"T4","m":14,"v":-5000},{"s":"T4","m":15,"v":4000},{"s":"T4","m":16,"v":-4000},{"s":"T4","m":17,"v":5000},{"s":"T4","m":18,"v":-6000},{"s":"T4","m":19,"v":11000},{"s":"T4","m":20,"v":-16000},{"s":"T4","m":21,"v":-3000},{"s":"T4","m":22,"v":-13000},{"s":"T4","m":23,"v":15000},{"s":"T4","m":24,"v":-8000},{"s":"T4","m":25,"v":6000},{"s":"T4","m":26,"v":-5000},{"s":"T4","m":27,"v":4000},{"s":"T4","m":28,"v":1000},{"s":"T4","m":29,"v":5000},{"s":"T4","m":30,"v":-10000},{"s":"T4","m":31,"v":13000},{"s":"T4","m":32,"v":-17000},{"s":"T4","m":33,"v":12000},{"s":"T4","m":34,"v":-19000},{"s":"T4","m":35,"v":13000},{"s":"T4","m":36,"v":-11000},
{"s":"T5","m":1,"v":-3000},{"s":"T5","m":2,"v":2000},{"s":"T5","m":3,"v":-1000},{"s":"T5","m":4,"v":2000},{"s":"T5","m":5,"v":-2000},{"s":"T5","m":6,"v":1000},{"s":"T5","m":7,"v":-2000},{"s":"T5","m":8,"v":4000},{"s":"T5","m":9,"v":-5000},{"s":"T5","m":10,"v":6000},{"s":"T5","m":11,"v":-5000},{"s":"T5","m":12,"v":4000},{"s":"T5","m":13,"v":-2000},{"s":"T5","m":14,"v":2000},{"s":"T5","m":15,"v":-1000},{"s":"T5","m":16,"v":1000},{"s":"T5","m":17,"v":-2000},{"s":"T5","m":18,"v":2000},{"s":"T5","m":19,"v":-4000},{"s":"T5","m":20,"v":5000},{"s":"T5","m":21,"v":-4000},{"s":"T5","m":22,"v":4000},{"s":"T5","m":23,"v":-5000},{"s":"T5","m":24,"v":3000},{"s":"T5","m":25,"v":-2000},{"s":"T5","m":26,"v":2000},{"s":"T5","m":27,"v":-1000},{"s":"T5","m":28,"v":2000},{"s":"T5","m":29,"v":-3000},{"s":"T5","m":30,"v":3000},{"s":"T5","m":31,"v":-5000},{"s":"T5","m":32,"v":4000},{"s":"T5","m":33,"v":-6000},{"s":"T5","m":34,"v":5000},{"s":"T5","m":35,"v":-4000},{"s":"T5","m":36,"v":2000},
{"s":"T6","m":1,"v":-4000},{"s":"T6","m":2,"v":6000},{"s":"T6","m":3,"v":1000},{"s":"T6","m":4,"v":-3000},{"s":"T6","m":5,"v":5000},{"s":"T6","m":6,"v":-6000},{"s":"T6","m":7,"v":2000},{"s":"T6","m":8,"v":-7000},{"s":"T6","m":9,"v":12000},{"s":"T6","m":10,"v":5000},{"s":"T6","m":11,"v":-9000},{"s":"T6","m":12,"v":-4000},{"s":"T6","m":13,"v":4000},{"s":"T6","m":14,"v":-2000},{"s":"T6","m":15,"v":-5000},{"s":"T6","m":16,"v":3000},{"s":"T6","m":17,"v":-3000},{"s":"T6","m":18,"v":6000},{"s":"T6","m":19,"v":-4000},{"s":"T6","m":20,"v":-12000},{"s":"T6","m":21,"v":9000},{"s":"T6","m":22,"v":7000},{"s":"T6","m":23,"v":-9000},{"s":"T6","m":24,"v":4000},{"s":"T6","m":25,"v":-3000},{"s":"T6","m":26,"v":5000},{"s":"T6","m":27,"v":-2000},{"s":"T6","m":28,"v":-4000},{"s":"T6","m":29,"v":6000},{"s":"T6","m":30,"v":-2000},{"s":"T6","m":31,"v":-8000},{"s":"T6","m":32,"v":-6000},{"s":"T6","m":33,"v":11000},{"s":"T6","m":34,"v":-13000},{"s":"T6","m":35,"v":7000},{"s":"T6","m":36,"v":-4000},
{"s":"T7","m":1,"v":2000},{"s":"T7","m":2,"v":-1000},{"s":"T7","m":3,"v":-4000},{"s":"T7","m":4,"v":5000},{"s":"T7","m":5,"v":-2000},{"s":"T7","m":6,"v":3000},{"s":"T7","m":7,"v":-4000},{"s":"T7","m":8,"v":4000},{"s":"T7","m":9,"v":-5000},{"s":"T7","m":10,"v":-10000},{"s":"T7","m":11,"v":7000},{"s":"T7","m":12,"v":-8000},{"s":"T7","m":13,"v":-3000},{"s":"T7","m":14,"v":4000},{"s":"T7","m":15,"v":1000},{"s":"T7","m":16,"v":-3000},{"s":"T7","m":17,"v":2000},{"s":"T7","m":18,"v":-3000},{"s":"T7","m":19,"v":-7000},{"s":"T7","m":20,"v":6000},{"s":"T7","m":21,"v":-1000},{"s":"T7","m":22,"v":-11000},{"s":"T7","m":23,"v":4000},{"s":"T7","m":24,"v":-6000},{"s":"T7","m":25,"v":2000},{"s":"T7","m":26,"v":-3000},{"s":"T7","m":27,"v":5000},{"s":"T7","m":28,"v":-1000},{"s":"T7","m":29,"v":-4000},{"s":"T7","m":30,"v":4000},{"s":"T7","m":31,"v":3000},{"s":"T7","m":32,"v":-11000},{"s":"T7","m":33,"v":-9000},{"s":"T7","m":34,"v":6000},{"s":"T7","m":35,"v":-16000},{"s":"T7","m":36,"v":5000}
],
"trend": [
{"n":"IG2.Banfora","m":1,"v":-400,"lo":-700,"hi":-100},{"n":"IG2.Banfora","m":3,"v":-150,"lo":-450,"hi":150},{"n":"IG2.Banfora","m":5,"v":200,"lo":-100,"hi":500},{"n":"IG2.Banfora","m":7,"v":600,"lo":300,"hi":900},{"n":"IG2.Banfora","m":9,"v":900,"lo":600,"hi":1200},{"n":"IG2.Banfora","m":11,"v":950,"lo":650,"hi":1250},{"n":"IG2.Banfora","m":13,"v":650,"lo":350,"hi":950},{"n":"IG2.Banfora","m":15,"v":150,"lo":-150,"hi":450},{"n":"IG2.Banfora","m":17,"v":-400,"lo":-750,"hi":-50},{"n":"IG2.Banfora","m":19,"v":-900,"lo":-1250,"hi":-550},{"n":"IG2.Banfora","m":21,"v":-1450,"lo":-1800,"hi":-1100},{"n":"IG2.Banfora","m":23,"v":-2050,"lo":-2400,"hi":-1700},{"n":"IG2.Banfora","m":25,"v":-2700,"lo":-3050,"hi":-2350},{"n":"IG2.Banfora","m":27,"v":-3400,"lo":-3850,"hi":-2950},{"n":"IG2.Banfora","m":29,"v":-4150,"lo":-4600,"hi":-3700},{"n":"IG2.Banfora","m":31,"v":-5000,"lo":-5450,"hi":-4550},{"n":"IG2.Banfora","m":33,"v":-5950,"lo":-6400,"hi":-5500},{"n":"IG2.Banfora","m":35,"v":-7100,"lo":-7650,"hi":-6550},{"n":"IG2.Banfora","m":36,"v":-7700,"lo":-8250,"hi":-7150},
{"n":"Stdr.Gaoua","m":1,"v":0,"lo":-300,"hi":300},{"n":"Stdr.Gaoua","m":3,"v":50,"lo":-250,"hi":350},{"n":"Stdr.Gaoua","m":5,"v":100,"lo":-200,"hi":400},{"n":"Stdr.Gaoua","m":7,"v":150,"lo":-150,"hi":450},{"n":"Stdr.Gaoua","m":9,"v":200,"lo":-100,"hi":500},{"n":"Stdr.Gaoua","m":11,"v":200,"lo":-100,"hi":500},{"n":"Stdr.Gaoua","m":13,"v":150,"lo":-150,"hi":450},{"n":"Stdr.Gaoua","m":15,"v":100,"lo":-200,"hi":400},{"n":"Stdr.Gaoua","m":17,"v":50,"lo":-300,"hi":400},{"n":"Stdr.Gaoua","m":19,"v":0,"lo":-350,"hi":350},{"n":"Stdr.Gaoua","m":21,"v":0,"lo":-350,"hi":350},{"n":"Stdr.Gaoua","m":23,"v":0,"lo":-350,"hi":350},{"n":"Stdr.Gaoua","m":25,"v":0,"lo":-350,"hi":350},{"n":"Stdr.Gaoua","m":27,"v":0,"lo":-450,"hi":450},{"n":"Stdr.Gaoua","m":29,"v":0,"lo":-450,"hi":450},{"n":"Stdr.Gaoua","m":31,"v":0,"lo":-450,"hi":450},{"n":"Stdr.Gaoua","m":33,"v":0,"lo":-450,"hi":450},{"n":"Stdr.Gaoua","m":35,"v":0,"lo":-550,"hi":550},{"n":"Stdr.Gaoua","m":36,"v":0,"lo":-550,"hi":550},
{"n":"Stdr.Nouna","m":1,"v":0,"lo":-300,"hi":300},{"n":"Stdr.Nouna","m":3,"v":50,"lo":-250,"hi":350},{"n":"Stdr.Nouna","m":5,"v":100,"lo":-200,"hi":400},{"n":"Stdr.Nouna","m":7,"v":150,"lo":-150,"hi":450},{"n":"Stdr.Nouna","m":9,"v":200,"lo":-100,"hi":500},{"n":"Stdr.Nouna","m":11,"v":200,"lo":-100,"hi":500},{"n":"Stdr.Nouna","m":13,"v":150,"lo":-150,"hi":450},{"n":"Stdr.Nouna","m":15,"v":100,"lo":-200,"hi":400},{"n":"Stdr.Nouna","m":17,"v":50,"lo":-300,"hi":400},{"n":"Stdr.Nouna","m":19,"v":0,"lo":-350,"hi":350},{"n":"Stdr.Nouna","m":21,"v":0,"lo":-350,"hi":350},{"n":"Stdr.Nouna","m":23,"v":0,"lo":-350,"hi":350},{"n":"Stdr.Nouna","m":25,"v":0,"lo":-350,"hi":350},{"n":"Stdr.Nouna","m":27,"v":0,"lo":-450,"hi":450},{"n":"Stdr.Nouna","m":29,"v":0,"lo":-450,"hi":450},{"n":"Stdr.Nouna","m":31,"v":0,"lo":-450,"hi":450},{"n":"Stdr.Nouna","m":33,"v":0,"lo":-450,"hi":450},{"n":"Stdr.Nouna","m":35,"v":0,"lo":-550,"hi":550},{"n":"Stdr.Nouna","m":36,"v":0,"lo":-550,"hi":550},
{"n":"PBO.Orodara","m":1,"v":300,"lo":0,"hi":600},{"n":"PBO.Orodara","m":3,"v":250,"lo":-50,"hi":550},{"n":"PBO.Orodara","m":5,"v":200,"lo":-100,"hi":500},{"n":"PBO.Orodara","m":7,"v":200,"lo":-100,"hi":500},{"n":"PBO.Orodara","m":9,"v":250,"lo":-50,"hi":550},{"n":"PBO.Orodara","m":11,"v":250,"lo":-50,"hi":550},{"n":"PBO.Orodara","m":13,"v":200,"lo":-100,"hi":500},{"n":"PBO.Orodara","m":15,"v":100,"lo":-200,"hi":400},{"n":"PBO.Orodara","m":17,"v":-50,"lo":-400,"hi":300},{"n":"PBO.Orodara","m":19,"v":-250,"lo":-600,"hi":100},{"n":"PBO.Orodara","m":21,"v":-500,"lo":-850,"hi":-150},{"n":"PBO.Orodara","m":23,"v":-800,"lo":-1150,"hi":-450},{"n":"PBO.Orodara","m":25,"v":-1150,"lo":-1500,"hi":-800},{"n":"PBO.Orodara","m":27,"v":-1550,"lo":-2000,"hi":-1100},{"n":"PBO.Orodara","m":29,"v":-2050,"lo":-2500,"hi":-1600},{"n":"PBO.Orodara","m":31,"v":-2600,"lo":-3050,"hi":-2150},{"n":"PBO.Orodara","m":33,"v":-3150,"lo":-3600,"hi":-2700},{"n":"PBO.Orodara","m":35,"v":-3700,"lo":-4250,"hi":-3150},{"n":"PBO.Orodara","m":36,"v":-3950,"lo":-4500,"hi":-3400},
{"n":"IG2.Tougan","m":1,"v":0,"lo":-300,"hi":300},{"n":"IG2.Tougan","m":3,"v":50,"lo":-250,"hi":350},{"n":"IG2.Tougan","m":5,"v":50,"lo":-250,"hi":350},{"n":"IG2.Tougan","m":7,"v":100,"lo":-200,"hi":400},{"n":"IG2.Tougan","m":9,"v":100,"lo":-200,"hi":400},{"n":"IG2.Tougan","m":11,"v":100,"lo":-200,"hi":400},{"n":"IG2.Tougan","m":13,"v":50,"lo":-250,"hi":350},{"n":"IG2.Tougan","m":15,"v":0,"lo":-300,"hi":300},{"n":"IG2.Tougan","m":17,"v":-50,"lo":-400,"hi":300},{"n":"IG2.Tougan","m":19,"v":-150,"lo":-500,"hi":200},{"n":"IG2.Tougan","m":21,"v":-300,"lo":-650,"hi":50},{"n":"IG2.Tougan","m":23,"v":-450,"lo":-800,"hi":-100},{"n":"IG2.Tougan","m":25,"v":-600,"lo":-950,"hi":-250},{"n":"IG2.Tougan","m":27,"v":-750,"lo":-1200,"hi":-300},{"n":"IG2.Tougan","m":29,"v":-950,"lo":-1400,"hi":-500},{"n":"IG2.Tougan","m":31,"v":-1150,"lo":-1600,"hi":-700},{"n":"IG2.Tougan","m":33,"v":-1400,"lo":-1850,"hi":-950},{"n":"IG2.Tougan","m":35,"v":-1700,"lo":-2250,"hi":-1150},{"n":"IG2.Tougan","m":36,"v":-1850,"lo":-2400,"hi":-1300}
],
"labels": [
{"label":"Std","m":36,"v":2180},
{"label":"IG2 - Tougan","m":36,"v":-1000},
{"label":"PBO - Oroodara","m":36,"v":-4170},
{"label":"IG2- Banfora","m":36,"v":-7460}
]
},
"layer": [
{
"data": {"name": "sims"},
"transform": [{"lookup": "s", "from": {"data": {"name": "series"}, "key": "s", "fields": ["n"]}}],
"mark": {"type": "line", "strokeWidth": 1.2, "opacity": 0.34, "clip": true},
"encoding": {
"x": {"field": "m", "type": "quantitative",
"scale": {"domain": [-0.75, 36.4], "nice": false, "zero": false},
"axis": {"title": "month", "values": [0, 10, 20, 30], "grid": false, "domain": false, "ticks": true, "tickSize": 5, "tickColor": "#333333", "tickWidth": 1.2, "labelFontSize": 23, "labelColor": "#555555", "labelPadding": 6, "titleFontSize": 30, "titleFontWeight": "normal", "titleColor": "#111111", "titlePadding": 8, "titleX": 713, "labelFont": "Liberation Sans", "titleFont": "Liberation Sans"}},
"y": {"field": "v", "type": "quantitative",
"scale": {"domain": [-50650, 51650], "nice": false, "zero": false},
"axis": {"title": "Clinical malaria incidence per 10,000 person months", "values": [-50000, -25000, 0, 25000], "labelExpr": "'' + datum.value", "grid": true, "gridDash": [2, 4], "gridColor": "#bdbdbd", "gridWidth": 1.5, "domain": false, "tickSize": 6, "tickColor": "#333333", "tickWidth": 1.2, "labelFontSize": 23, "labelColor": "#555555", "labelPadding": 8, "titleFontSize": 32, "titleFontWeight": "normal", "titleColor": "#111111", "titlePadding": 10, "titleY": 426, "labelFont": "Liberation Sans", "titleFont": "Liberation Sans"}},
"stroke": {"field": "n", "type": "nominal",
"scale": {"domain": ["IG2.Tougan", "PBO.Orodara", "Stdr.Nouna", "Stdr.Gaoua", "IG2.Banfora"], "range": ["#E76BF3", "#00B0F6", "#00BF7D", "#A3A500", "#F8766D"]},
"legend": null},
"detail": {"field": "s"}
}
},
{
"data": {"name": "trend"},
"mark": {"type": "area", "color": "#999999", "opacity": 0.4, "interpolate": "monotone"},
"encoding": {
"x": {"field": "m", "type": "quantitative"},
"y": {"field": "lo", "type": "quantitative"},
"y2": {"field": "hi"},
"detail": {"field": "n"}
}
},
{
"data": {"name": "trend"},
"mark": {"type": "line", "strokeWidth": 4, "interpolate": "monotone"},
"encoding": {
"x": {"field": "m", "type": "quantitative"},
"y": {"field": "v", "type": "quantitative"},
"color": {"field": "n", "type": "nominal",
"scale": {"domain": ["IG2.Banfora", "Stdr.Gaoua", "Stdr.Nouna", "PBO.Orodara", "IG2.Tougan"], "range": ["#F8766D", "#A3A500", "#00BF7D", "#00B0F6", "#E76BF3"]},
"legend": {"title": "Net Type", "orient": "none", "legendX": 103, "legendY": -66, "direction": "horizontal", "titleOrient": "left", "titleAnchor": "middle", "titleBaseline": "middle", "titleFontSize": 30, "titleFontWeight": "normal", "titleColor": "#111111", "titlePadding": 22, "titleFont": "Liberation Sans", "labelFont": "Liberation Sans", "labelFontSize": 25, "labelColor": "#222222", "labelOffset": 12, "columnPadding": 17, "symbolType": "M-0.8,0L1,0L1,-1L-1,-1L-1,1L1,1L1,0", "symbolSize": 2025, "symbolStrokeWidth": 4, "symbolDash": [36, 2000], "symbolFillColor": "#d0d0d0", "symbolOpacity": 1, "zindex": 1,
"encode": {"symbols": {"update": {"fill": {"value": "#d0d0d0"}, "fillOpacity": {"value": 1}, "strokeDash": {"value": [36, 2000]}}}, "title": {"update": {"dy": {"value": -2}}}}}}
}
},
{
"data": {"name": "labels"},
"mark": {"type": "text", "align": "left", "baseline": "middle", "dx": 3, "fontSize": 21, "color": "#3d4758", "font": "Liberation Sans"},
"encoding": {
"x": {"field": "m", "type": "quantitative"},
"y": {"field": "v", "type": "quantitative"},
"text": {"field": "label"}
}
}
]
}
